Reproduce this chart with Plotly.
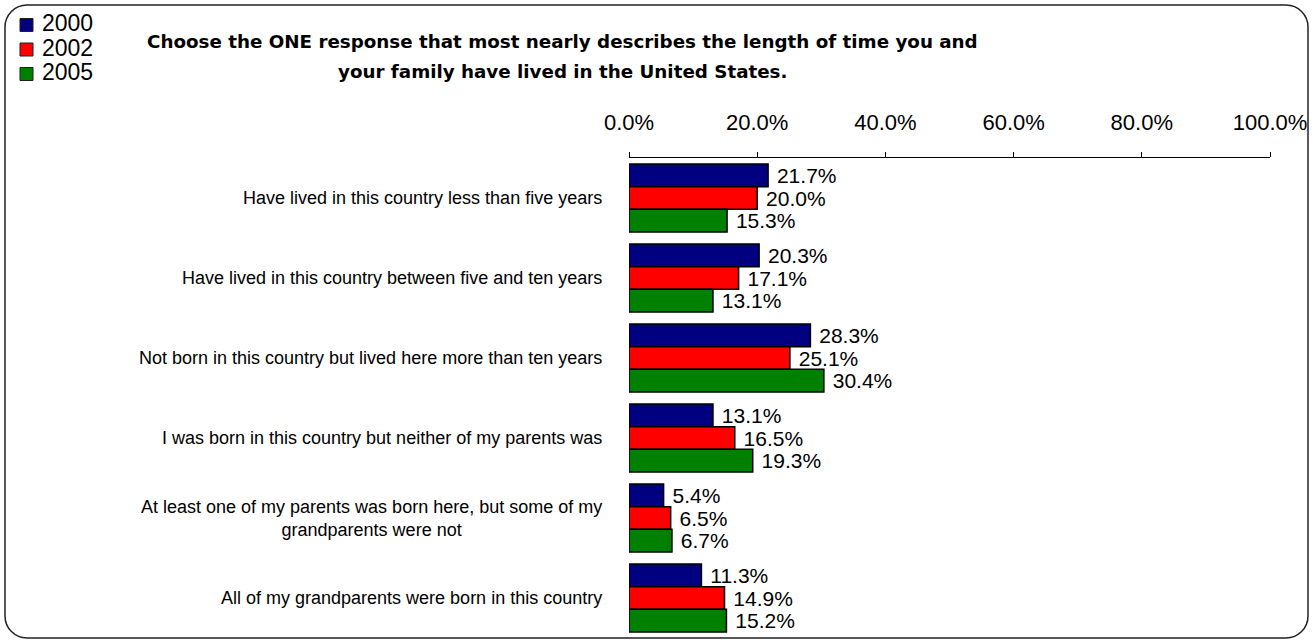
import plotly.graph_objects as go

# Survey categories (top to bottom) and yearly shares in percent
categories = [
    "Have lived in this country less than five years",
    "Have lived in this country between five and ten years",
    "Not born in this country but lived here more than ten years",
    "I was born in this country but neither of my parents was",
    "At least one of my parents was born here, but some of my<br>grandparents were not",
    "All of my grandparents were born in this country",
]
years = ["2000", "2002", "2005"]
values_2000 = [21.7, 20.3, 28.3, 13.1, 5.4, 11.3]
values_2002 = [20.0, 17.1, 25.1, 16.5, 6.5, 14.9]
values_2005 = [15.3, 13.1, 30.4, 19.3, 6.7, 15.2]
tick_values = [0, 20, 40, 60, 80, 100]
tick_labels = [f"{v:.1f}%" for v in tick_values]

series = [values_2000, values_2002, values_2005]
colors = ["#000080", "#ff0000", "#008000"]

W, H = 1315, 640
ML, MR, MT, MB = 629, 45, 158, 2
PW, PH = W - ML - MR, H - MT - MB


def px_x(px):
    return (px - ML) / PW


def px_y(py):
    return (H - MB - py) / PH


fig = go.Figure()
for name, vals, col in zip(years, series, colors):
    fig.add_trace(go.Bar(
        y=categories, x=vals, name=name, orientation="h",
        marker=dict(color=col, line=dict(color="black", width=1.5)),
        texttemplate="\u00a0%{x:.1f}%", textposition="outside",
        constraintext="none", cliponaxis=False,
        textfont=dict(family="Liberation Sans, Arial", size=21, color="black"),
        showlegend=False,
    ))

annotations = []
# category labels, centred block right-aligned against the axis
for cat in categories:
    annotations.append(dict(
        x=0, xref="paper", y=cat, yref="y", xanchor="right", yanchor="middle",
        xshift=-25, text=cat, showarrow=False, align="center",
        font=dict(family="Liberation Sans, Arial", size=18, color="black"),
    ))

# title lines
title_lines = [
    "Choose the ONE response that most nearly describes the length of time you and",
    "your family have lived in the United States.",
]
for line, cy in zip(title_lines, [41, 71]):
    annotations.append(dict(
        x=px_x(562), y=px_y(cy), xref="paper", yref="paper",
        xanchor="center", yanchor="middle", text=line, showarrow=False,
        font=dict(family="DejaVu Sans", size=18.3, color="black", weight="bold"),
    ))

shapes = []
# legend swatches and labels
for i, (name, col) in enumerate(zip(years, colors)):
    cy = 25 + i * 24.5
    shapes.append(dict(
        type="rect", xref="paper", yref="paper",
        x0=px_x(20), x1=px_x(33), y0=px_y(cy - 6.5), y1=px_y(cy + 6.5),
        fillcolor=col, line=dict(color="#202020", width=1),
    ))
    annotations.append(dict(
        x=px_x(40), y=px_y(cy - 2), xref="paper", yref="paper",
        xanchor="left", yanchor="middle", text=name, showarrow=False,
        font=dict(family="Liberation Sans, Arial", size=23, color="black"),
    ))

# rounded outer frame
x0, x1, y0, y1, r = 5, 1308, 5, 638, 22
k = 0.5523 * r


def P(px, py):
    return f"{px_x(px):.6f},{px_y(py):.6f}"


path = (
    f"M {P(x0 + r, y0)} L {P(x1 - r, y0)} "
    f"C {P(x1 - r + k, y0)} {P(x1, y0 + r - k)} {P(x1, y0 + r)} "
    f"L {P(x1, y1 - r)} "
    f"C {P(x1, y1 - r + k)} {P(x1 - r + k, y1)} {P(x1 - r, y1)} "
    f"L {P(x0 + r, y1)} "
    f"C {P(x0 + r - k, y1)} {P(x0, y1 - r + k)} {P(x0, y1 - r)} "
    f"L {P(x0, y0 + r)} "
    f"C {P(x0, y0 + r - k)} {P(x0 + r - k, y0)} {P(x0 + r, y0)} Z"
)
shapes.append(dict(type="path", xref="paper", yref="paper", path=path,
                   line=dict(color="#222222", width=1.5)))

fig.update_layout(
    width=W, height=H,
    margin=dict(l=ML, r=MR, t=MT, b=MB, pad=0),
    paper_bgcolor="white", plot_bgcolor="white",
    barmode="group", bargap=0.15, bargroupgap=0,
    annotations=annotations, shapes=shapes,
    xaxis=dict(
        range=[0, 100], side="top", tickmode="array",
        tickvals=tick_values, ticktext=tick_labels,
        ticks="outside", ticklen=5, tickcolor="black", tickwidth=1,
        showline=True, linecolor="black", linewidth=1,
        showgrid=False, zeroline=False, ticklabelstandoff=13,
        tickfont=dict(family="Liberation Sans, Arial", size=22, color="black"),
    ),
    yaxis=dict(
        range=[5.5, -0.5], showticklabels=False, showgrid=False,
        zeroline=False, showline=False, ticks="",
    ),
)

fig.write_html("out.html")
